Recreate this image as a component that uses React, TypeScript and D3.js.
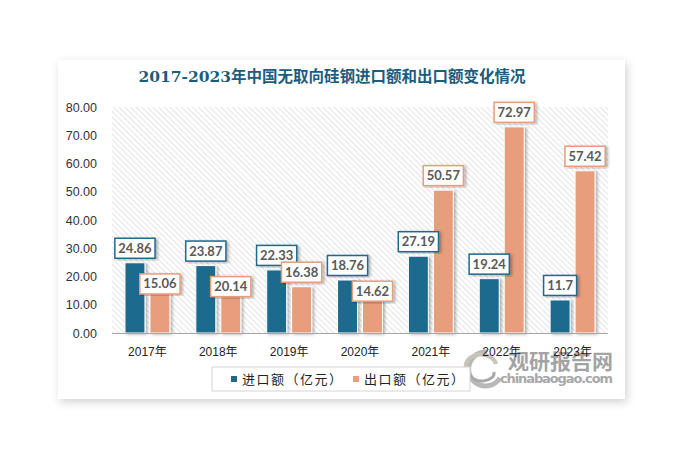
import React from "react";
import * as d3 from "d3";

const years = ["2017年", "2018年", "2019年", "2020年", "2021年", "2022年", "2023年"];
const importValues = [24.86, 23.87, 22.33, 18.76, 27.19, 19.24, 11.7];
const exportValues = [15.06, 20.14, 16.38, 14.62, 50.57, 72.97, 57.42];
const yTicks = [0, 10, 20, 30, 40, 50, 60, 70, 80];
const seriesNames = ["进口额（亿元）", "出口额（亿元）"];

// 标签位置微调（避免与进口标签重叠）
const exportLabelNudge = [8, 25, 0, 14, 0, 0, 0];

const W = 681;
const H = 465;
const IMPORT_COLOR = "#1e6a8d";
const EXPORT_COLOR = "#e89d7d";

const estTextWidth = (s: string) =>
  s.split("").reduce((w, c) => w + (c === "." ? 3.4 : 7.2), 0);

const App: React.FC = () => {
  const x = d3.scaleBand<string>().domain(years).range([112, 608]).padding(0);
  const inner = d3
    .scaleBand<string>()
    .domain(["import", "export"])
    .range([0, x.bandwidth()])
    .paddingInner(0.2)
    .paddingOuter(0.52);
  const y = d3.scaleLinear().domain([0, 80]).range([333, 107]);

  const series = [
    { key: "import", values: importValues, color: IMPORT_COLOR, nudge: years.map(() => 0) },
    { key: "export", values: exportValues, color: EXPORT_COLOR, nudge: exportLabelNudge },
  ];

  return (
    <svg
      width={W}
      height={H}
      style={{ position: "absolute", left: 0, top: 0, background: "#fff" }}
    >
      <defs>
        <pattern id="hatch" width="4" height="4" patternUnits="userSpaceOnUse" patternTransform="rotate(-45)">
          <rect width="4" height="4" fill="#fff" />
          <line x1="0" y1="0" x2="0" y2="4" stroke="#d6d6d6" strokeWidth={1.3} />
        </pattern>
        <filter id="cardShadow" x="-10%" y="-10%" width="120%" height="125%">
          <feDropShadow dx="2" dy="3" stdDeviation="4" floodColor="#000" floodOpacity="0.18" />
        </filter>
        <filter id="barShadow" x="-30%" y="-10%" width="180%" height="120%">
          <feDropShadow dx="2" dy="1" stdDeviation="1.5" floodColor="#000" floodOpacity="0.3" />
        </filter>
      </defs>

      {/* 卡片 */}
      <rect x={58} y={60} width={567} height={339} fill="#fff" filter="url(#cardShadow)" />

      {/* 标题 */}
      <text
        x={332}
        y={82}
        textAnchor="middle"
        fontSize={15.5}
        fontWeight="bold"
        fill="#1b5d7e"
        fontFamily="'DejaVu Serif', 'Noto Sans CJK SC', serif"
      >
        2017-2023年中国无取向硅钢进口额和出口额变化情况
      </text>

      {/* 绘图区斜线背景 */}
      <rect x={112} y={y(80)} width={496} height={y(0) - y(80)} fill="url(#hatch)" />

      {/* Y 轴刻度 */}
      {yTicks.map(t => (
        <text
          key={t}
          x={97}
          y={y(t) + 4.5}
          textAnchor="end"
          fontSize={12.5}
          fill="#333"
          fontFamily="'Liberation Sans', Arial, sans-serif"
        >
          {t.toFixed(2)}
        </text>
      ))}

      {/* 柱子 */}
      {series.map(s =>
        s.values.map((v, i) => (
          <rect
            key={s.key + i}
            x={(x(years[i]) ?? 0) + (inner(s.key) ?? 0)}
            y={y(v)}
            width={inner.bandwidth()}
            height={y(0) - y(v)}
            fill={s.color}
            stroke="#fff"
            strokeWidth={1}
            filter="url(#barShadow)"
          />
        ))
      )}

      {/* 基线 */}
      <line x1={112} x2={608} y1={y(0) + 0.5} y2={y(0) + 0.5} stroke="#a6a6a6" strokeWidth={1} />

      {/* 水印 */}
      <g>
        <path d="M487,352 A17,17 0 1,0 500,378" fill="none" stroke="#b8b8b8" strokeWidth={5} />
        <path d="M466,368 A12,9 0 0,1 496,364" fill="none" stroke="#c9c4b8" strokeWidth={4} />
        <path d="M470,374 A12,8 0 0,0 494,372" fill="none" stroke="#a9a9a9" strokeWidth={3} />
        <text x={508} y={369} fontSize={21} fontWeight="bold" fill="#a3a3a3" fontFamily="'Noto Sans CJK SC', sans-serif">
          观研报告网
        </text>
        <text x={500} y={383} fontSize={13} fontWeight="bold" fill="#a8a8a8" textLength={113} fontFamily="'DejaVu Sans', sans-serif">
          chinabaogao.com
        </text>
      </g>

      {/* X 轴标签 */}
      {years.map(yr => (
        <text
          key={yr}
          x={(x(yr) ?? 0) + x.bandwidth() / 2}
          y={356}
          textAnchor="middle"
          fontSize={12}
          fill="#222"
          fontFamily="'Liberation Sans', 'Noto Sans CJK SC', sans-serif"
        >
          {yr}
        </text>
      ))}

      {/* 数据标签 */}
      {series.map(s =>
        s.values.map((v, i) => {
          const label = String(v);
          const bw = estTextWidth(label) + 8;
          const cx = (x(years[i]) ?? 0) + (inner(s.key) ?? 0) + inner.bandwidth() / 2;
          const cy = y(v) - 14.5 + s.nudge[i];
          return (
            <g key={"lbl" + s.key + i}>
              <rect
                x={cx - bw / 2}
                y={cy - 10}
                width={bw}
                height={20}
                fill="#fff"
                stroke={s.color}
                strokeWidth={1.5}
                filter="url(#barShadow)"
              />
              <text
                x={cx}
                y={cy + 4.5}
                textAnchor="middle"
                fontSize={13}
                fontWeight="bold"
                fill="#595959"
                fontFamily="Lato, 'Open Sans', sans-serif"
              >
                {label}
              </text>
            </g>
          );
        })
      )}

      {/* 图例 */}
      <rect x={212} y={367} width={258} height={24} fill="#fff" stroke="#d4d4d4" strokeWidth={1} />
      {seriesNames.map((name, i) => (
        <g key={name} transform={`translate(${i === 0 ? 231 : 353},379)`}>
          <rect x={0} y={-3} width={6} height={6} fill={i === 0 ? IMPORT_COLOR : EXPORT_COLOR} />
          <text
            x={11}
            y={5}
            fontSize={13}
            fill="#222"
            letterSpacing={1.5}
            fontFamily="'Noto Sans CJK SC', sans-serif"
          >
            {name}
          </text>
        </g>
      ))}
    </svg>
  );
};

export default App;
